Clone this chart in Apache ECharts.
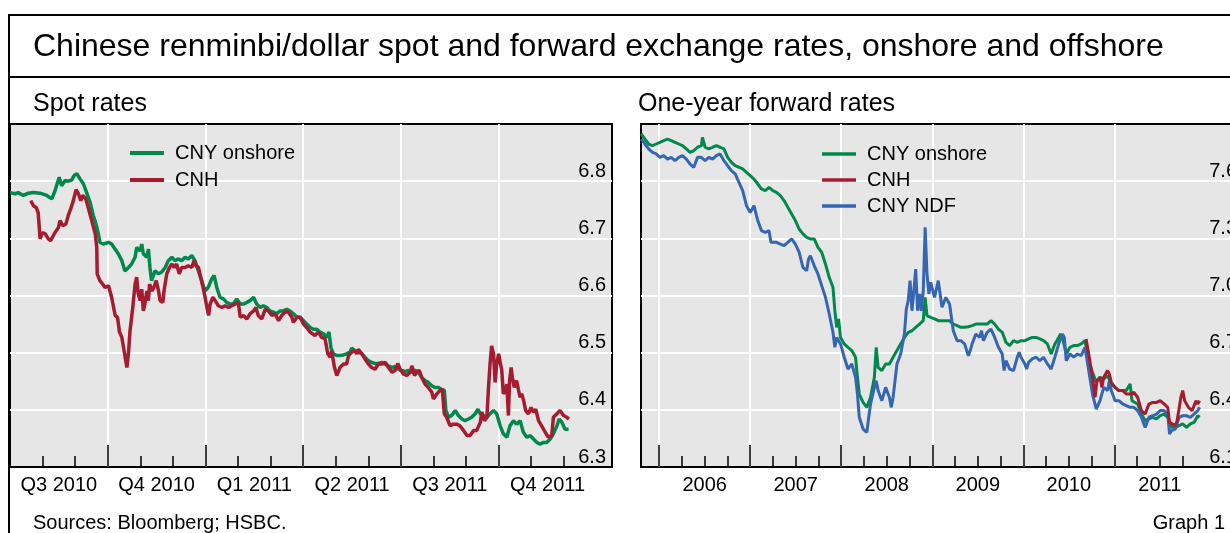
<!DOCTYPE html>
<html><head><meta charset="utf-8">
<script src="https://cdn.jsdelivr.net/npm/echarts@6/dist/echarts.min.js"></script>
<style>html,body{margin:0;padding:0;background:#fff}#c{width:1230px;height:533px}</style>
</head><body><div id="c"></div><script>
// ---------- data (x = decimal year, y = CNY per USD) ----------
const spotCny = [[2010.500,6.780],[2010.513,6.778],[2010.521,6.780],[2010.534,6.775],[2010.547,6.779],[2010.560,6.780],[2010.577,6.779],[2010.594,6.775],[2010.607,6.769],[2010.615,6.783],[2010.619,6.792],[2010.626,6.807],[2010.632,6.792],[2010.641,6.801],[2010.649,6.800],[2010.658,6.802],[2010.664,6.810],[2010.671,6.813],[2010.679,6.804],[2010.688,6.795],[2010.696,6.780],[2010.705,6.763],[2010.713,6.740],[2010.720,6.725],[2010.726,6.708],[2010.730,6.693],[2010.739,6.690],[2010.752,6.693],[2010.760,6.690],[2010.769,6.681],[2010.777,6.673],[2010.786,6.661],[2010.794,6.643],[2010.803,6.649],[2010.811,6.655],[2010.820,6.667],[2010.824,6.684],[2010.833,6.678],[2010.837,6.690],[2010.841,6.673],[2010.850,6.667],[2010.854,6.681],[2010.858,6.649],[2010.862,6.626],[2010.871,6.643],[2010.880,6.638],[2010.888,6.641],[2010.897,6.649],[2010.905,6.661],[2010.914,6.667],[2010.922,6.661],[2010.931,6.664],[2010.939,6.661],[2010.948,6.667],[2010.956,6.664],[2010.965,6.670],[2010.969,6.673],[2010.973,6.661],[2010.982,6.643],[2010.990,6.626],[2010.999,6.608],[2011.007,6.614],[2011.016,6.629],[2011.022,6.635],[2011.029,6.614],[2011.037,6.597],[2011.046,6.594],[2011.054,6.588],[2011.063,6.585],[2011.071,6.585],[2011.080,6.594],[2011.089,6.585],[2011.097,6.585],[2011.106,6.588],[2011.114,6.591],[2011.123,6.597],[2011.131,6.585],[2011.140,6.579],[2011.148,6.582],[2011.157,6.579],[2011.165,6.573],[2011.174,6.571],[2011.182,6.568],[2011.191,6.573],[2011.199,6.573],[2011.208,6.576],[2011.216,6.573],[2011.225,6.568],[2011.234,6.562],[2011.242,6.562],[2011.251,6.556],[2011.259,6.550],[2011.268,6.544],[2011.276,6.541],[2011.285,6.541],[2011.293,6.536],[2011.302,6.533],[2011.310,6.527],[2011.316,6.536],[2011.321,6.509],[2011.327,6.498],[2011.336,6.495],[2011.344,6.495],[2011.353,6.496],[2011.361,6.498],[2011.370,6.501],[2011.374,6.508],[2011.383,6.503],[2011.391,6.501],[2011.400,6.498],[2011.408,6.492],[2011.417,6.486],[2011.425,6.483],[2011.434,6.481],[2011.442,6.481],[2011.451,6.483],[2011.460,6.480],[2011.468,6.477],[2011.477,6.474],[2011.485,6.476],[2011.494,6.471],[2011.502,6.469],[2011.511,6.467],[2011.519,6.469],[2011.528,6.466],[2011.536,6.469],[2011.545,6.466],[2011.553,6.457],[2011.562,6.451],[2011.570,6.448],[2011.579,6.442],[2011.587,6.439],[2011.596,6.439],[2011.604,6.436],[2011.611,6.434],[2011.615,6.399],[2011.622,6.387],[2011.630,6.390],[2011.639,6.399],[2011.647,6.390],[2011.656,6.384],[2011.664,6.381],[2011.673,6.384],[2011.681,6.387],[2011.690,6.393],[2011.697,6.401],[2011.703,6.393],[2011.711,6.390],[2011.720,6.387],[2011.728,6.393],[2011.737,6.399],[2011.745,6.393],[2011.754,6.372],[2011.762,6.358],[2011.771,6.352],[2011.775,6.349],[2011.779,6.372],[2011.788,6.381],[2011.796,6.375],[2011.805,6.381],[2011.813,6.361],[2011.822,6.352],[2011.831,6.355],[2011.839,6.349],[2011.848,6.343],[2011.856,6.340],[2011.865,6.343],[2011.873,6.343],[2011.882,6.349],[2011.890,6.358],[2011.899,6.372],[2011.905,6.384],[2011.912,6.378],[2011.920,6.366],[2011.929,6.366]];
const spotCnh = [[2010.553,6.766],[2010.560,6.757],[2010.567,6.754],[2010.572,6.745],[2010.577,6.699],[2010.583,6.710],[2010.590,6.708],[2010.598,6.699],[2010.604,6.696],[2010.611,6.705],[2010.615,6.710],[2010.624,6.719],[2010.628,6.731],[2010.635,6.722],[2010.643,6.725],[2010.649,6.740],[2010.655,6.751],[2010.662,6.766],[2010.669,6.785],[2010.675,6.778],[2010.681,6.766],[2010.686,6.775],[2010.694,6.769],[2010.700,6.754],[2010.709,6.731],[2010.718,6.708],[2010.722,6.684],[2010.723,6.638],[2010.730,6.626],[2010.737,6.620],[2010.743,6.614],[2010.752,6.617],[2010.760,6.597],[2010.769,6.565],[2010.775,6.562],[2010.780,6.536],[2010.786,6.527],[2010.792,6.503],[2010.799,6.474],[2010.803,6.498],[2010.807,6.538],[2010.814,6.579],[2010.820,6.620],[2010.824,6.632],[2010.828,6.603],[2010.833,6.591],[2010.837,6.611],[2010.841,6.573],[2010.845,6.585],[2010.850,6.608],[2010.854,6.591],[2010.857,6.620],[2010.863,6.608],[2010.868,6.614],[2010.874,6.626],[2010.880,6.608],[2010.884,6.591],[2010.891,6.588],[2010.894,6.608],[2010.901,6.638],[2010.908,6.649],[2010.914,6.655],[2010.920,6.649],[2010.926,6.655],[2010.933,6.638],[2010.939,6.649],[2010.948,6.649],[2010.956,6.652],[2010.965,6.649],[2010.971,6.661],[2010.976,6.652],[2010.982,6.649],[2010.990,6.626],[2010.999,6.597],[2011.003,6.582],[2011.008,6.565],[2011.012,6.585],[2011.019,6.597],[2011.025,6.591],[2011.033,6.582],[2011.042,6.579],[2011.050,6.582],[2011.059,6.579],[2011.067,6.582],[2011.076,6.585],[2011.084,6.588],[2011.089,6.562],[2011.097,6.565],[2011.106,6.559],[2011.114,6.568],[2011.123,6.573],[2011.129,6.579],[2011.135,6.565],[2011.144,6.559],[2011.153,6.576],[2011.161,6.573],[2011.170,6.565],[2011.178,6.568],[2011.187,6.556],[2011.195,6.565],[2011.204,6.571],[2011.212,6.571],[2011.221,6.562],[2011.225,6.553],[2011.234,6.562],[2011.242,6.562],[2011.251,6.550],[2011.259,6.544],[2011.268,6.536],[2011.272,6.536],[2011.280,6.530],[2011.289,6.536],[2011.297,6.527],[2011.306,6.524],[2011.313,6.498],[2011.319,6.492],[2011.323,6.503],[2011.330,6.474],[2011.336,6.460],[2011.344,6.474],[2011.353,6.480],[2011.361,6.480],[2011.366,6.495],[2011.374,6.501],[2011.383,6.503],[2011.387,6.498],[2011.391,6.506],[2011.400,6.498],[2011.408,6.489],[2011.417,6.480],[2011.425,6.474],[2011.434,6.471],[2011.442,6.480],[2011.451,6.480],[2011.460,6.483],[2011.468,6.474],[2011.477,6.466],[2011.485,6.469],[2011.492,6.481],[2011.498,6.471],[2011.506,6.463],[2011.515,6.460],[2011.524,6.466],[2011.528,6.477],[2011.535,6.460],[2011.541,6.466],[2011.547,6.469],[2011.553,6.457],[2011.562,6.445],[2011.570,6.439],[2011.579,6.431],[2011.583,6.419],[2011.592,6.428],[2011.600,6.434],[2011.606,6.436],[2011.611,6.393],[2011.617,6.387],[2011.626,6.372],[2011.634,6.375],[2011.643,6.375],[2011.651,6.372],[2011.660,6.364],[2011.669,6.355],[2011.677,6.355],[2011.686,6.364],[2011.694,6.364],[2011.703,6.378],[2011.707,6.396],[2011.714,6.381],[2011.720,6.387],[2011.724,6.439],[2011.728,6.480],[2011.732,6.512],[2011.737,6.498],[2011.741,6.448],[2011.745,6.480],[2011.750,6.498],[2011.754,6.483],[2011.758,6.469],[2011.762,6.428],[2011.767,6.434],[2011.771,6.445],[2011.775,6.390],[2011.778,6.451],[2011.782,6.474],[2011.785,6.457],[2011.790,6.439],[2011.796,6.451],[2011.801,6.434],[2011.805,6.422],[2011.809,6.428],[2011.814,6.416],[2011.819,6.399],[2011.826,6.393],[2011.833,6.404],[2011.839,6.396],[2011.845,6.401],[2011.852,6.381],[2011.860,6.372],[2011.869,6.361],[2011.877,6.352],[2011.886,6.355],[2011.890,6.387],[2011.899,6.393],[2011.907,6.399],[2011.916,6.390],[2011.924,6.387],[2011.930,6.384]];
const fwdCny = [[2005.802,7.848],[2005.843,7.821],[2005.884,7.795],[2005.926,7.786],[2005.967,7.795],[2006.008,7.804],[2006.050,7.813],[2006.091,7.821],[2006.132,7.813],[2006.174,7.804],[2006.215,7.795],[2006.256,7.786],[2006.298,7.769],[2006.339,7.751],[2006.380,7.760],[2006.421,7.778],[2006.463,7.786],[2006.475,7.830],[2006.504,7.778],[2006.545,7.769],[2006.587,7.778],[2006.628,7.786],[2006.669,7.778],[2006.711,7.769],[2006.752,7.725],[2006.793,7.699],[2006.835,7.681],[2006.876,7.673],[2006.917,7.664],[2006.959,7.646],[2007.000,7.629],[2007.041,7.611],[2007.083,7.585],[2007.124,7.559],[2007.165,7.550],[2007.207,7.568],[2007.248,7.550],[2007.289,7.541],[2007.331,7.524],[2007.372,7.498],[2007.413,7.463],[2007.455,7.428],[2007.496,7.393],[2007.537,7.349],[2007.579,7.323],[2007.620,7.305],[2007.661,7.297],[2007.703,7.297],[2007.744,7.253],[2007.785,7.227],[2007.827,7.165],[2007.868,7.095],[2007.909,7.043],[2007.930,6.920],[2007.950,6.833],[2007.971,6.877],[2007.992,6.780],[2008.033,6.746],[2008.074,6.728],[2008.116,6.711],[2008.157,6.676],[2008.178,6.571],[2008.198,6.483],[2008.240,6.439],[2008.281,6.413],[2008.322,6.466],[2008.364,6.571],[2008.384,6.728],[2008.405,6.623],[2008.446,6.606],[2008.488,6.641],[2008.529,6.641],[2008.570,6.676],[2008.612,6.711],[2008.653,6.746],[2008.694,6.780],[2008.736,6.807],[2008.777,6.815],[2008.818,6.833],[2008.860,6.850],[2008.901,6.868],[2008.922,6.990],[2008.942,6.894],[2008.983,6.885],[2009.025,6.877],[2009.066,6.868],[2009.107,6.868],[2009.149,6.868],[2009.190,6.868],[2009.231,6.850],[2009.273,6.842],[2009.314,6.833],[2009.355,6.833],[2009.397,6.836],[2009.438,6.842],[2009.479,6.850],[2009.521,6.850],[2009.562,6.850],[2009.603,6.850],[2009.645,6.868],[2009.686,6.850],[2009.727,6.824],[2009.769,6.807],[2009.810,6.754],[2009.851,6.737],[2009.893,6.763],[2009.934,6.754],[2009.975,6.763],[2010.017,6.763],[2010.058,6.772],[2010.099,6.780],[2010.141,6.780],[2010.182,6.772],[2010.223,6.763],[2010.265,6.746],[2010.306,6.693],[2010.347,6.746],[2010.389,6.780],[2010.409,6.798],[2010.430,6.780],[2010.472,6.693],[2010.513,6.728],[2010.554,6.737],[2010.595,6.737],[2010.636,6.746],[2010.678,6.763],[2010.719,6.658],[2010.760,6.597],[2010.802,6.544],[2010.843,6.571],[2010.884,6.562],[2010.926,6.579],[2010.967,6.536],[2011.008,6.518],[2011.050,6.501],[2011.091,6.501],[2011.132,6.501],[2011.174,6.536],[2011.194,6.448],[2011.215,6.457],[2011.256,6.431],[2011.298,6.378],[2011.339,6.343],[2011.380,6.352],[2011.422,6.361],[2011.463,6.352],[2011.504,6.369],[2011.546,6.378],[2011.587,6.361],[2011.628,6.308],[2011.670,6.308],[2011.711,6.317],[2011.752,6.326],[2011.794,6.308],[2011.835,6.326],[2011.876,6.334],[2011.917,6.369],[2011.938,6.361]];
const fwdCnh = [[2010.690,6.772],[2010.719,6.693],[2010.760,6.571],[2010.789,6.466],[2010.810,6.553],[2010.843,6.571],[2010.864,6.518],[2010.884,6.571],[2010.926,6.606],[2010.946,6.588],[2010.967,6.544],[2011.008,6.518],[2011.050,6.501],[2011.091,6.501],[2011.132,6.483],[2011.174,6.483],[2011.215,6.492],[2011.256,6.466],[2011.298,6.396],[2011.339,6.378],[2011.380,6.430],[2011.422,6.439],[2011.463,6.439],[2011.504,6.448],[2011.546,6.431],[2011.587,6.413],[2011.607,6.334],[2011.628,6.326],[2011.670,6.317],[2011.690,6.343],[2011.732,6.466],[2011.752,6.501],[2011.773,6.448],[2011.794,6.431],[2011.814,6.413],[2011.855,6.396],[2011.876,6.404],[2011.897,6.448],[2011.917,6.431],[2011.938,6.448]];
const fwdNdf = [[2005.802,7.821],[2005.843,7.795],[2005.884,7.769],[2005.926,7.751],[2005.967,7.743],[2006.008,7.725],[2006.050,7.734],[2006.091,7.716],[2006.132,7.725],[2006.174,7.708],[2006.215,7.725],[2006.256,7.734],[2006.298,7.716],[2006.339,7.690],[2006.380,7.673],[2006.421,7.725],[2006.463,7.725],[2006.504,7.708],[2006.545,7.725],[2006.587,7.716],[2006.628,7.734],[2006.669,7.743],[2006.711,7.708],[2006.752,7.681],[2006.793,7.655],[2006.835,7.638],[2006.876,7.594],[2006.917,7.550],[2006.959,7.471],[2007.000,7.436],[2007.041,7.471],[2007.083,7.393],[2007.124,7.340],[2007.165,7.331],[2007.207,7.340],[2007.227,7.279],[2007.248,7.270],[2007.289,7.279],[2007.331,7.270],[2007.372,7.262],[2007.413,7.279],[2007.455,7.297],[2007.496,7.270],[2007.537,7.227],[2007.579,7.148],[2007.620,7.130],[2007.641,7.192],[2007.661,7.209],[2007.703,7.157],[2007.744,7.113],[2007.785,7.052],[2007.827,6.990],[2007.868,6.903],[2007.909,6.807],[2007.930,6.728],[2007.950,6.780],[2007.992,6.746],[2008.033,6.676],[2008.074,6.614],[2008.116,6.641],[2008.157,6.571],[2008.178,6.483],[2008.198,6.361],[2008.240,6.299],[2008.281,6.282],[2008.302,6.361],[2008.322,6.431],[2008.364,6.518],[2008.384,6.553],[2008.405,6.501],[2008.446,6.448],[2008.488,6.518],[2008.529,6.466],[2008.550,6.413],[2008.570,6.466],[2008.612,6.641],[2008.653,6.693],[2008.694,6.798],[2008.715,6.929],[2008.736,6.973],[2008.756,7.078],[2008.777,6.920],[2008.798,7.025],[2008.818,7.139],[2008.839,6.920],[2008.860,7.008],[2008.880,6.920],[2008.901,7.025],[2008.922,7.358],[2008.942,7.113],[2008.963,7.008],[2008.983,7.069],[2009.025,6.990],[2009.066,7.078],[2009.087,7.069],[2009.107,6.938],[2009.149,6.990],[2009.190,6.955],[2009.231,6.815],[2009.273,6.763],[2009.314,6.763],[2009.355,6.746],[2009.397,6.684],[2009.417,6.711],[2009.438,6.746],[2009.479,6.798],[2009.521,6.780],[2009.541,6.815],[2009.562,6.763],[2009.603,6.807],[2009.645,6.824],[2009.686,6.780],[2009.727,6.728],[2009.769,6.693],[2009.789,6.606],[2009.810,6.658],[2009.851,6.614],[2009.893,6.606],[2009.934,6.676],[2009.955,6.702],[2009.975,6.676],[2010.017,6.641],[2010.037,6.614],[2010.058,6.649],[2010.099,6.667],[2010.141,6.676],[2010.182,6.658],[2010.223,6.676],[2010.265,6.641],[2010.306,6.614],[2010.347,6.676],[2010.389,6.746],[2010.430,6.798],[2010.451,6.780],[2010.472,6.658],[2010.513,6.693],[2010.554,6.676],[2010.595,6.693],[2010.636,6.684],[2010.678,6.728],[2010.719,6.606],[2010.760,6.483],[2010.802,6.404],[2010.843,6.448],[2010.884,6.518],[2010.926,6.501],[2010.946,6.553],[2010.967,6.501],[2011.008,6.448],[2011.050,6.448],[2011.091,6.431],[2011.132,6.422],[2011.174,6.413],[2011.215,6.413],[2011.256,6.396],[2011.298,6.361],[2011.339,6.308],[2011.380,6.361],[2011.422,6.369],[2011.463,6.378],[2011.504,6.396],[2011.546,6.396],[2011.587,6.378],[2011.607,6.273],[2011.628,6.291],[2011.670,6.299],[2011.711,6.361],[2011.752,6.369],[2011.794,6.369],[2011.835,6.361],[2011.876,6.378],[2011.917,6.396],[2011.938,6.413]];

// ---------- axis tick labels ----------
const spotQuarterStarts = [2010.5, 2010.75, 2011.0, 2011.25, 2011.5, 2011.75];
const spotQuarterLabels = ['Q3 2010', 'Q4 2010', 'Q1 2011', 'Q2 2011', 'Q3 2011', 'Q4 2011'];
const fwdYears = [2006, 2007, 2008, 2009, 2010, 2011];
const fwdYearLabels = ['2006', '2007', '2008', '2009', '2010', '2011'];

// ---------- layout / style ----------
const FONT = '"Liberation Sans", Arial, Helvetica, sans-serif';
const GREEN = '#00884d', RED = '#a51b2f', BLUE = '#3566b1';
const BG = '#e6e6e6';

const spotMajor = spotQuarterStarts.slice(1);
const spotMinor = [];
spotQuarterStarts.forEach(q => { spotMinor.push(q + 1/12, q + 2/12); });
const spotLabelPos = spotQuarterStarts.map(q => q + 0.125);
const spotLabelMap = {};
spotLabelPos.forEach((p, i) => spotLabelMap[p.toFixed(3)] = spotQuarterLabels[i]);

const fwdMinor = [];
fwdYears.forEach(y => fwdMinor.push(y + 0.25, y + 0.5, y + 0.75));
const fwdLabelPos = fwdYears.map(y => y + 0.5);
const fwdLabelMap = {};
fwdLabelPos.forEach((p, i) => fwdLabelMap[p.toFixed(3)] = fwdYearLabels[i]);

function xMain(grid, min, max, major, labelPos, map) {
  return {
    type: 'value', gridIndex: grid, position: 'bottom', min: min, max: max,
    axisLine: { show: false },
    axisTick: { show: true, inside: true, length: 22, customValues: major, lineStyle: { color: '#000', width: 1.5 } },
    axisLabel: { show: true, customValues: labelPos, formatter: v => map[(+v).toFixed(3)] || '',
                 fontSize: 20, color: '#000', fontFamily: FONT, margin: 8 },
    splitLine: { show: true, lineStyle: { color: '#fff', width: 2 } }
  };
}
function xMinor(grid, min, max, minor) {
  return {
    type: 'value', gridIndex: grid, position: 'bottom', min: min, max: max,
    axisLine: { show: false },
    axisTick: { show: true, inside: true, length: 11, customValues: minor, lineStyle: { color: '#000', width: 1.5 } },
    axisLabel: { show: false }, splitLine: { show: false }
  };
}
function yAx(grid, min, max, interval) {
  return {
    type: 'value', gridIndex: grid, position: 'right', min: min, max: max, interval: interval,
    axisLine: { show: false }, axisTick: { show: false },
    axisLabel: { inside: true, showMaxLabel: false, showMinLabel: true, verticalAlign: 'bottom',
                 formatter: v => (+v).toFixed(1), fontSize: 20, color: '#000', fontFamily: FONT, margin: 6 },
    splitLine: { show: true, showMinLine: false, showMaxLine: false, lineStyle: { color: '#fff', width: 2 } }
  };
}

const chart = echarts.init(document.getElementById('c'), null, { renderer: 'canvas' });
chart.setOption({
  animation: false,
  backgroundColor: '#fff',
  textStyle: { fontFamily: FONT },
  grid: [
    { left: 10, top: 124, width: 602, height: 343, show: true, backgroundColor: BG, borderColor: '#000', borderWidth: 2,
      outerBoundsMode: 'none', containLabel: false },
    { left: 641, top: 124, width: 602, height: 343, show: true, backgroundColor: BG, borderColor: '#000', borderWidth: 2,
      outerBoundsMode: 'none', containLabel: false }
  ],
  xAxis: [
    xMain(0, 2010.5, 2012.04, spotMajor, spotLabelPos, spotLabelMap),
    xMinor(0, 2010.5, 2012.04, spotMinor),
    xMain(1, 2005.80, 2012.414, fwdYears, fwdLabelPos, fwdLabelMap),
    xMinor(1, 2005.80, 2012.414, fwdMinor)
  ],
  yAxis: [ yAx(0, 6.3, 6.9, 0.1), yAx(1, 6.1, 7.9, 0.3) ],
  legend: [
    { orient: 'vertical', left: 125, top: 138, itemWidth: 34, itemHeight: 4, itemGap: 7, icon: 'rect',
      data: ['CNY onshore', 'CNH'],
      textStyle: { fontSize: 20, color: '#000', fontFamily: FONT, padding: [0, 0, 0, 6] }, selectedMode: false },
    { orient: 'vertical', left: 817, top: 139, itemWidth: 34, itemHeight: 3.5, itemGap: 6, icon: 'rect',
      data: ['CNY onshore', 'CNH', 'CNY NDF'],
      textStyle: { fontSize: 20, color: '#000', fontFamily: FONT, padding: [0, 0, 0, 6] }, selectedMode: false }
  ],
  series: [
    { name: 'CNY onshore', type: 'line', xAxisIndex: 0, yAxisIndex: 0, data: spotCny, showSymbol: false, symbol: 'none',
      lineStyle: { color: GREEN, width: 3.5 }, itemStyle: { color: GREEN } },
    { name: 'CNH', type: 'line', xAxisIndex: 0, yAxisIndex: 0, data: spotCnh, showSymbol: false, symbol: 'none',
      lineStyle: { color: RED, width: 3.5 }, itemStyle: { color: RED } },
    { name: 'CNY onshore', type: 'line', xAxisIndex: 2, yAxisIndex: 1, data: fwdCny, showSymbol: false, symbol: 'none',
      lineStyle: { color: GREEN, width: 3 }, itemStyle: { color: GREEN } },
    { name: 'CNY NDF', type: 'line', xAxisIndex: 2, yAxisIndex: 1, data: fwdNdf, showSymbol: false, symbol: 'none',
      lineStyle: { color: BLUE, width: 3 }, itemStyle: { color: BLUE } },
    { name: 'CNH', type: 'line', xAxisIndex: 2, yAxisIndex: 1, data: fwdCnh, showSymbol: false, symbol: 'none',
      lineStyle: { color: RED, width: 3 }, itemStyle: { color: RED } }
  ],
  graphic: [
    { type: 'line', z: 100, shape: { x1: 8, y1: 15, x2: 1230, y2: 15 }, style: { stroke: '#000', lineWidth: 2 } },
    { type: 'line', z: 100, shape: { x1: 8, y1: 77, x2: 1230, y2: 77 }, style: { stroke: '#000', lineWidth: 2 } },
    { type: 'line', z: 100, shape: { x1: 9, y1: 14, x2: 9, y2: 533 }, style: { stroke: '#000', lineWidth: 2 } },
    { type: 'text', left: 33, top: 31, style: { text: 'Chinese renminbi/dollar spot and forward exchange rates, onshore and offshore',
      font: '32px ' + FONT, fill: '#000' } },
    { type: 'text', left: 33, top: 92, style: { text: 'Spot rates', font: '25px ' + FONT, fill: '#000' } },
    { type: 'text', left: 638, top: 92, style: { text: 'One-year forward rates', font: '25px ' + FONT, fill: '#000' } },
    { type: 'text', left: 33, top: 513, style: { text: 'Sources: Bloomberg; HSBC.', font: '20px ' + FONT, fill: '#000' } },
    { type: 'text', right: 5, top: 513, style: { text: 'Graph 1', font: '20px ' + FONT, fill: '#000' } }
  ]
});
</script></body></html>
